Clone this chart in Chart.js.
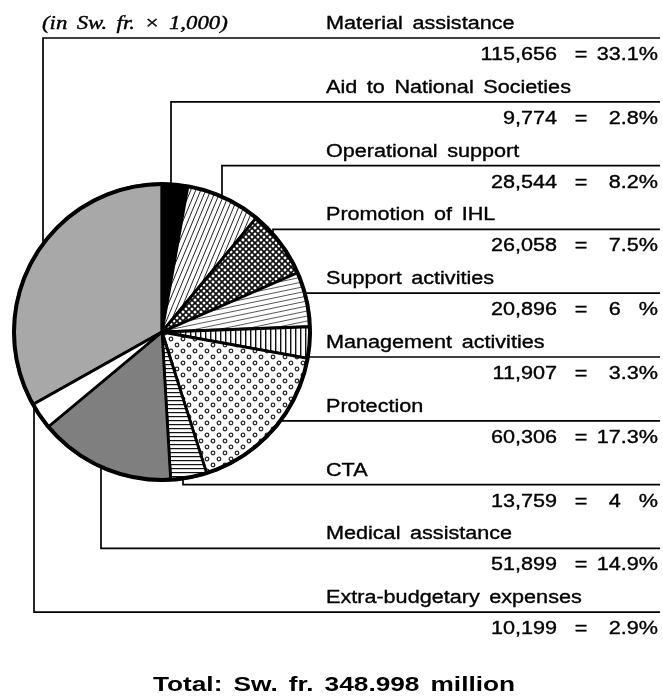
<!DOCTYPE html>
<html>
<head>
<meta charset="utf-8">
<script src="https://cdn.jsdelivr.net/npm/chart.js@4.4.0/dist/chart.umd.min.js"></script>
<style>
  html, body { margin: 0; padding: 0; background: #fff; }
  canvas { display: block; }
</style>
</head>
<body>
<canvas id="budget-pie" width="663" height="696"></canvas>
<script>
/* ICRC expenditure breakdown, pie with right-hand leader labels */

const categories = [
  "Material assistance", "Aid to National Societies", "Operational support",
  "Promotion of IHL", "Support activities", "Management activities",
  "Protection", "CTA", "Medical assistance", "Extra-budgetary expenses",
];
const amounts = [115656, 9774, 28544, 26058, 20896, 11907, 60306, 13759, 51899, 10199];
const amountLabels = ["115,656", "9,774", "28,544", "26,058", "20,896", "11,907", "60,306", "13,759", "51,899", "10,199"];
const percentLabels = ["33.1", "2.8", "8.2", "7.5", "6", "3.3", "17.3", "4", "14.9", "2.9"];
const unitNote = "(in Sw. fr. \u00d7 1,000)";
const totalLabel = "Total: Sw. fr. 348.998 million";

// where each leader drops onto the pie (null = line runs straight in to the rim)
const LEADER_X = [43, 171, 222, 273, null, null, null, 183, 101, 34];

const FONT = '18px "Liberation Sans", Arial, sans-serif';
const STRETCH = 1.2;

function tile(w, h, draw) {
  const c = document.createElement("canvas");
  c.width = w; c.height = h;
  const g = c.getContext("2d");
  g.fillStyle = "#fff";
  g.fillRect(0, 0, w, h);
  draw(g, w, h);
  return c.getContext("2d").createPattern(c, "repeat");
}

function buildFills() {
  const steep = tile(5, 12, (g, w, h) => {
    g.strokeStyle = "#222"; g.lineWidth = 1;
    for (let k = -1; k <= 1; k++) {
      g.beginPath(); g.moveTo(k * w, h); g.lineTo(k * w + w, 0); g.stroke();
    }
  });
  const mesh = tile(6, 6, (g, w, h) => {
    g.strokeStyle = "#111"; g.lineWidth = 1.7;
    for (let k = -1; k <= 1; k++) {
      g.beginPath(); g.moveTo(k * w, 0); g.lineTo(k * w + w, h); g.stroke();
      g.beginPath(); g.moveTo(k * w, h); g.lineTo(k * w + w, 0); g.stroke();
    }
  });
  const shallow = tile(24, 5, (g, w, h) => {
    g.strokeStyle = "#444"; g.lineWidth = 0.9;
    for (let k = -1; k <= 1; k++) {
      g.beginPath(); g.moveTo(0, h + k * h); g.lineTo(w, k * h); g.stroke();
    }
  });
  const vertical = tile(5, 4, (g, w, h) => {
    g.fillStyle = "#111"; g.fillRect(0, 0, 1.4, h);
  });
  const rings = tile(12, 12, (g) => {
    g.strokeStyle = "#2a2a2a"; g.lineWidth = 1.3;
    [[3, 3], [9, 9]].forEach(([x, y]) => {
      g.beginPath(); g.arc(x, y, 1.8, 0, Math.PI * 2); g.stroke();
    });
  });
  const horizontal = tile(4, 4, (g, w) => {
    g.fillStyle = "#111"; g.fillRect(0, 0, w, 1.2);
  });
  return ["#a8a8a8", "#000000", steep, mesh, shallow, vertical, rings, horizontal, "#7f7f7f", "#ffffff"];
}

function wideText(ctx, str, x, y, align, font, sx, heavy) {
  ctx.save();
  ctx.font = font;
  ctx.translate(x, y);
  ctx.scale(sx, 1);
  ctx.textAlign = align;
  ctx.textBaseline = "alphabetic";
  if ("wordSpacing" in ctx) ctx.wordSpacing = "3px";
  ctx.fillText(str, 0, 0);
  if (heavy) {
    ctx.lineWidth = heavy;
    ctx.strokeStyle = "#000";
    ctx.strokeText(str, 0, 0);
  }
  ctx.restore();
}

function measure(ctx, str, font, sx) {
  ctx.save();
  ctx.font = font;
  const w = ctx.measureText(str).width * sx;
  ctx.restore();
  return w;
}

const leaderPlugin = {
  id: "leaders",
  beforeDraw(chart) {
    const ctx = chart.ctx;
    ctx.save();
    ctx.fillStyle = "#fff";
    ctx.fillRect(0, 0, chart.width, chart.height);
    ctx.restore();
  },
  afterDatasetsDraw(chart) {
    const ctx = chart.ctx;
    const arc = chart.getDatasetMeta(0).data[0];
    const cx = arc.x, cy = arc.y, r = arc.outerRadius;

    // heavy outer rim
    ctx.save();
    ctx.strokeStyle = "#000";
    ctx.lineWidth = 4;
    ctx.beginPath();
    ctx.arc(cx, cy, r, 0, Math.PI * 2);
    ctx.stroke();

    const right = 660;
    const firstLine = 38, step = 63.8;
    ctx.lineWidth = 1.7;
    ctx.fillStyle = "#000";

    categories.forEach((name, i) => {
      const ly = firstLine + step * i;
      const ax = LEADER_X[i];
      ctx.beginPath();
      if (ax == null) {
        const dy = ly - cy;
        const ex = cx + Math.sqrt(Math.max(r * r - dy * dy, 0));
        ctx.moveTo(ex, ly);
        ctx.lineTo(right, ly);
      } else {
        const dx = ax - cx;
        const h = Math.sqrt(Math.max(r * r - dx * dx, 0));
        const ey = ly < cy ? cy - h : cy + h;
        ctx.moveTo(ax, ey);
        ctx.lineTo(ax, ly);
        ctx.lineTo(right, ly);
      }
      ctx.stroke();

      wideText(ctx, name, 326, ly - 9, "left", FONT, STRETCH, 0.35);

      const vy = ly + 22;
      wideText(ctx, amountLabels[i], 557, vy, "right", FONT, STRETCH, 0.35);
      wideText(ctx, "=", 581, vy, "center", FONT, STRETCH, 0.35);
      const pct = percentLabels[i];
      if (pct.includes(".")) {
        wideText(ctx, pct + "%", 658, vy, "right", FONT, STRETCH, 0.35);
      } else {
        wideText(ctx, "%", 658, vy, "right", FONT, STRETCH, 0.35);
        const gap = measure(ctx, ".0%", FONT, STRETCH);
        wideText(ctx, pct, 658 - gap, vy, "right", FONT, STRETCH, 0.35);
      }
    });

    wideText(ctx, unitNote, 42, 29, "left", 'italic 19px "Liberation Serif", "Times New Roman", serif', 1.2, 0.4);
    wideText(ctx, totalLabel, 334, 691, "center", 'bold 21px "Liberation Sans", Arial, sans-serif', 1.25);
    ctx.restore();
  },
};

const total = amounts.reduce((a, b) => a + b, 0);

new Chart(document.getElementById("budget-pie"), {
  type: "pie",
  data: {
    labels: categories,
    datasets: [{
      data: amounts,
      backgroundColor: buildFills(),
      borderColor: "#000",
      borderWidth: 2.8,
      radius: 148,
    }],
  },
  options: {
    responsive: false,
    animation: false,
    events: [],
    rotation: -(amounts[0] / total) * 360,
    layout: { padding: { left: 14, right: 353, top: 184, bottom: 216 } },
    plugins: { legend: { display: false }, tooltip: { enabled: false } },
  },
  plugins: [leaderPlugin],
});
</script>
</body>
</html>
